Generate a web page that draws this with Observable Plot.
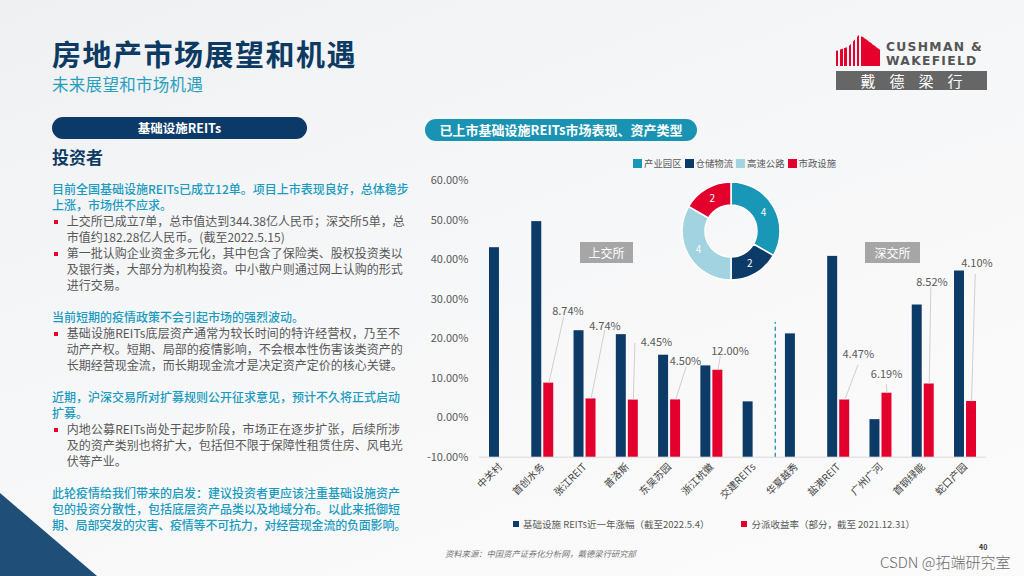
<!DOCTYPE html>
<html><head><meta charset="utf-8">
<script src="https://cdn.jsdelivr.net/npm/d3@7"></script>
<script src="https://cdn.jsdelivr.net/npm/@observablehq/plot@0.6"></script>
<style>
body{margin:0;}
#page{position:relative;width:1024px;height:576px;overflow:hidden;
  background:linear-gradient(160deg,#eef0f2 0%,#f5f6f7 35%,#f9f9fa 70%,#fbfbfb 100%);
  font-family:"Noto Sans CJK SC","Noto Sans",sans-serif;}
.abs{position:absolute;}
#title{left:52px;top:37px;font-size:29px;font-weight:700;color:#0d3a63;line-height:32px;white-space:nowrap;letter-spacing:1.5px;}
#subtitle{left:52px;top:73px;font-size:16.5px;color:#2a9fbd;line-height:22px;white-space:nowrap;letter-spacing:0.3px;}
#pill1{left:52px;top:117px;width:255px;height:22px;border-radius:11px;background:#0c3a68;color:#fff;font-size:12.5px;font-weight:700;text-align:center;line-height:22px;}
#investor{left:52px;top:146px;font-size:17px;font-weight:700;color:#0d3a63;line-height:22px;}
#text{left:52px;top:181px;width:348px;font-size:12px;line-height:16px;}
.ln{white-space:nowrap;height:16px;}
.h{color:#1a9bbf;font-weight:500;}
.b{color:#585858;padding-left:14.7px;position:relative;}
.j{text-align:justify;text-align-last:justify;}
.mk::before{content:"";position:absolute;left:2px;top:7px;width:3.5px;height:3.5px;background:#e3002c;}
.gap{height:16px;}
#pill2{left:425px;top:119px;width:272px;height:22px;border-radius:11px;background:#1a93b3;color:#fff;font-size:13px;font-weight:700;text-align:center;line-height:22px;white-space:nowrap;}
.exch{height:21px;background:#a6a6a6;color:#fff;font-size:12px;text-align:center;line-height:21px;}
.lg{display:flex;align-items:center;white-space:nowrap;color:#595959;}
.sw{display:inline-block;}
#tri{left:0;top:493px;width:97px;height:83px;background:#1f4e79;clip-path:polygon(0 0,100% 100%,0 100%);}
#source{left:445px;top:547px;font-size:8.3px;font-style:italic;color:#777;white-space:nowrap;}
#wm{left:880px;top:553px;font-size:15px;line-height:18px;color:#6a6a6a;white-space:nowrap;font-weight:300;}
#pn{left:979px;top:543px;font-size:7px;line-height:9px;font-weight:700;color:#333;}
#logoIcon{left:836px;top:35px;width:44px;height:31px;
  background:linear-gradient(90deg,transparent 0 60%,#e4002b 60% 100%),repeating-linear-gradient(90deg,#e4002b 0 2.4px,transparent 2.4px 4.2px);
  clip-path:polygon(0 52%,28% 38%,52% 0,64% 10%,100% 48%,100% 100%,0 100%);}
.logoTxt{left:886px;font-family:"DejaVu Sans",sans-serif;font-size:12.3px;font-weight:700;color:#555;line-height:14px;letter-spacing:1.3px;white-space:nowrap;}
#logoBox{left:836px;top:71px;width:151px;height:19px;background:#666;color:#fff;font-size:15px;line-height:19px;text-align:center;letter-spacing:14px;text-indent:14px;}
</style></head><body><div id="page">
<div id="tri" class="abs"></div>
<div id="title" class="abs">房地产市场展望和机遇</div>
<div id="subtitle" class="abs">未来展望和市场机遇</div>
<div id="pill1" class="abs">基础设施REITs</div>
<div id="investor" class="abs">投资者</div>
<div id="text" class="abs">
<div class="ln h j">目前全国基础设施REITs已成立12单。项目上市表现良好，总体稳步</div>
<div class="ln h">上涨，市场供不应求。</div>
<div class="ln b j mk">上交所已成立7单，总市值达到344.38亿人民币；深交所5单，总</div>
<div class="ln b">市值约182.28亿人民币。(截至2022.5.15)</div>
<div class="ln b j mk">第一批认购企业资金多元化，其中包含了保险类、股权投资类以</div>
<div class="ln b j">及银行类，大部分为机构投资。中小散户则通过网上认购的形式</div>
<div class="ln b">进行交易。</div>
<div class="gap"></div>
<div class="ln h">当前短期的疫情政策不会引起市场的强烈波动。</div>
<div class="ln b j mk">基础设施REITs底层资产通常为较长时间的特许经营权，乃至不</div>
<div class="ln b j">动产产权。短期、局部的疫情影响，不会根本性伤害该类资产的</div>
<div class="ln b j">长期经营现金流，而长期现金流才是决定资产定价的核心关键。</div>
<div class="gap"></div>
<div class="ln h j">近期，沪深交易所对扩募规则公开征求意见，预计不久将正式启动</div>
<div class="ln h">扩募。</div>
<div class="ln b j mk">内地公募REITs尚处于起步阶段，市场正在逐步扩张，后续所涉</div>
<div class="ln b j">及的资产类别也将扩大，包括但不限于保障性租赁住房、风电光</div>
<div class="ln b">伏等产业。</div>
<div class="gap"></div>
<div class="ln h j">此轮疫情给我们带来的启发：建议投资者更应该注重基础设施资产</div>
<div class="ln h j">包的投资分散性，包括底层资产品类以及地域分布。以此来抵御短</div>
<div class="ln h" style="letter-spacing:-0.2px">期、局部突发的灾害、疫情等不可抗力，对经营现金流的负面影响。</div>
</div>
<div id="pill2" class="abs">已上市基础设施REITs市场表现、资产类型</div>
<div id="chart" class="abs" style="left:420px;top:160px;"></div>
<div id="donut" class="abs" style="left:676px;top:176px;"></div>
<div id="donutLegend" class="abs lg" style="left:633px;top:155px;font-size:9.4px;height:16px;"></div>
<div id="exch0" class="abs exch" style="left:580px;top:242px;width:53px;"></div>
<div id="exch1" class="abs exch" style="left:865px;top:242px;width:55px;"></div>
<div id="barLegend" class="abs lg" style="left:513px;top:516px;font-size:9.5px;height:16px;"></div>
<div id="source" class="abs">资料来源：中国资产证券化分析网，戴德梁行研究部</div>
<div id="pn" class="abs">40</div>
<div id="wm" class="abs">CSDN @拓端研究室</div>
<div id="logoIcon" class="abs"></div>
<div class="abs logoTxt" style="top:39.5px;">CUSHMAN &amp;</div>
<div class="abs logoTxt" style="top:54px;">WAKEFIELD</div>
<div id="logoBox" class="abs">戴德梁行</div>
</div>
<script>
// ---- data ----
const categories = ["中关村","首创水务","张江REIT","普洛斯","东吴苏园","浙江杭徽","交建REITs","华夏越秀","盐港REIT","广州广河","首钢绿能","蛇口产园"];
const riseValues = [43.0, 49.6, 22.0, 21.0, 15.8, 13.1, 4.0, 21.2, 40.8, -0.5, 28.5, 37.1];
const yieldValues = [null, 8.74, 4.74, 4.45, 4.50, 12.00, null, null, 4.47, 6.19, 8.52, 4.10];
const seriesNames = ["基础设施 REITs近一年涨幅（截至2022.5.4）", "分派收益率（部分，截至 2021.12.31）"];
const yTicks = [-10, 0, 10, 20, 30, 40, 50, 60];
const assetTypes = ["产业园区","仓储物流","高速公路","市政设施"];
const assetCounts = [4, 2, 4, 2];
const exchanges = ["上交所","深交所"];

// ---- styles / layout ----
const navy = "#0d3b68", red = "#e3002c";
const seriesColors = [navy, red];
const assetColors = ["#1897b6", "#0d3b68", "#a1d4e0", "#e3002c"];
// label placement (offsets in category units / value units): label center, leader start
const labelLayout = {
  1:[0.596,26.8,0.496,25.5], 2:[0.47,23.1,0.466,22.2], 3:[0.688,18.9,0.18,18.9],
  4:[0.374,14.2,0.39,12.85], 5:[0.43,16.65,0.2,15.6], 8:[0.463,15.9,0.456,13.36],
  9:[0.132,10.9,0.13,8.47], 10:[0.206,34.2,0.18,32.95], 11:[0.27,38.9,0.23,36.35]
};

const rows = categories.map((name, i) => ({i, name, rise: riseValues[i], yld: yieldValues[i]}));
const yRows = rows.filter(d => d.yld != null);
const font = '"Noto Sans CJK SC","Noto Sans",sans-serif';

const chart = Plot.plot({
  width: 604, height: 370,
  marginLeft: 58.85, marginRight: 37.85, marginTop: 20, marginBottom: 73.3,
  style: {background: "transparent", fontFamily: font, overflow: "visible"},
  x: {domain: [-0.5, 11.5]},
  y: {domain: [-10, 60]},
  marks: [
    Plot.ruleY([-10], {stroke: "#d9d9d9", strokeWidth: 1}),
    Plot.rectY(rows, {x1: d => d.i - 0.26, x2: d => d.i - 0.024, y1: -10, y2: "rise", fill: seriesColors[0]}),
    Plot.rectY(yRows, {x1: d => d.i + 0.024, x2: d => d.i + 0.26, y1: -10, y2: "yld", fill: seriesColors[1]}),
    Plot.ruleX([6.5], {y1: -10, y2: 24.1, stroke: "#1b8fab", strokeWidth: 1.3, strokeDasharray: "4,3"}),
    Plot.link(yRows, {x1: d => d.i + labelLayout[d.i][2], y1: d => labelLayout[d.i][3], x2: d => d.i + 0.142, y2: "yld", stroke: "#c4c4c4", strokeWidth: 0.8}),
    Plot.text(yRows, {x: d => d.i + labelLayout[d.i][0], y: d => labelLayout[d.i][1], text: d => d.yld.toFixed(2) + "%", fill: "#595959", fontSize: 11}),
    Plot.axisY({ticks: yTicks, tickFormat: d => d.toFixed(2) + "%", tickSize: 0, tickPadding: 11, label: null, fontSize: 11, color: "#595959"}),
    Plot.axisX({ticks: rows.map(d => d.i), tickFormat: i => categories[i], tickRotate: -45, tickSize: 0, tickPadding: 8, label: null, fontSize: 10, color: "#404040"})
  ]
});
document.getElementById("chart").appendChild(chart);

// donut
const donutData = assetTypes.map((t, i) => ({type: t, count: assetCounts[i], color: assetColors[i]}));
const donut = Plot.plot({
  width: 110, height: 110, margin: 0,
  style: {background: "transparent", fontFamily: font},
  x: {domain: [-55, 55], axis: null},
  y: {domain: [-55, 55], axis: null},
  marks: [
    (index, scales) => {
      const cx = scales.x(0), cy = scales.y(0), k = scales.x(1) - scales.x(0);
      const g = d3.create("svg:g").attr("transform", `translate(${cx},${cy})`);
      const arcs = d3.pie().value(d => d.count).sort(null)(donutData);
      const arc = d3.arc().innerRadius(26 * k).outerRadius(49 * k);
      g.selectAll("path").data(arcs).join("path").attr("d", arc).attr("fill", d => d.data.color).attr("stroke", "#fff").attr("stroke-width", 1.5);
      g.selectAll("text").data(arcs).join("text").attr("transform", d => `translate(${arc.centroid(d)})`)
        .attr("text-anchor", "middle").attr("dy", "0.35em").attr("fill", "#fff").attr("font-size", 10).text(d => d.data.count);
      return g.node();
    }
  ]
});
document.getElementById("donut").appendChild(donut);

// legends
const dl = document.getElementById("donutLegend");
assetTypes.forEach((t, i) => {
  dl.insertAdjacentHTML("beforeend", `<span class="sw" style="width:9px;height:9px;background:${assetColors[i]};margin-right:2px;margin-left:${i ? 3 : 0}px"></span><span>${t}</span>`);
});
const bl = document.getElementById("barLegend");
seriesNames.forEach((t, i) => {
  bl.insertAdjacentHTML("beforeend", `<span class="sw" style="width:6px;height:6px;background:${seriesColors[i]};margin-right:4px;margin-left:${i ? 32 : 0}px"></span><span>${t}</span>`);
});
exchanges.forEach((t, i) => document.getElementById("exch" + i).textContent = t);
</script>
</body></html>
